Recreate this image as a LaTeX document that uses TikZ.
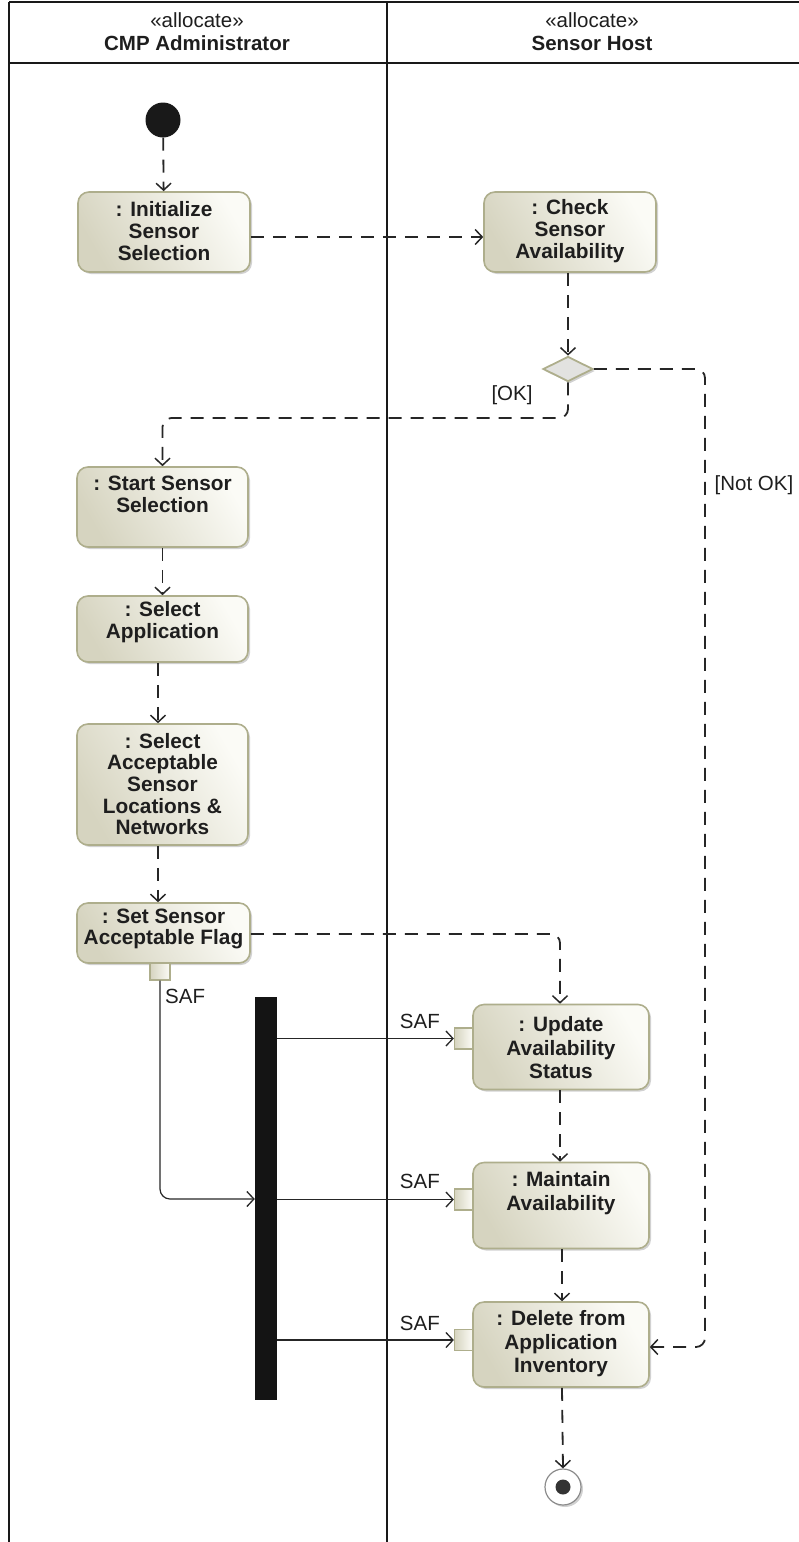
\documentclass[tikz,border=0pt]{standalone}
\usepackage{fontspec}
\setmainfont{Liberation Sans}
\usetikzlibrary{arrows.meta,shadows,shapes.geometric}

\definecolor{actborder}{HTML}{AEAE8C}
\definecolor{actlight}{HTML}{FBFBF6}
\definecolor{actdark}{HTML}{D6D4C0}
\definecolor{decfill}{HTML}{E2E2E0}
\definecolor{inktext}{HTML}{1E1E1E}

\tikzset{
  lane/.style={line width=2.6pt, black!90},
  action/.style={draw=actborder, line width=1.6pt, rounded corners=11pt,
    left color=actdark, right color=actlight, shading angle=120,
    drop shadow={shadow xshift=2pt, shadow yshift=-2pt, opacity=0.3, fill=black!60},
    inner sep=0pt},
  pin/.style={draw=actborder, line width=1.3pt, left color=actdark, right color=actlight,
    minimum width=18pt, minimum height=21pt, inner sep=0pt},
  vpin/.style={pin, minimum width=20pt, minimum height=17pt},
  atext/.style={font=\bfseries\fontsize{20.8}{21.7}\selectfont, align=center, text=inktext, inner sep=0pt},
  rtext/.style={atext, font=\bfseries\fontsize{20.8}{23.5}\selectfont},
  lbl/.style={font=\fontsize{20.5}{22}\selectfont, text=inktext, inner sep=0pt},
  hdr/.style={font=\fontsize{20.5}{22}\selectfont, text=inktext, inner sep=0pt},
  hdrb/.style={font=\bfseries\fontsize{20.5}{22}\selectfont, text=inktext, inner sep=0pt},
  ctrl/.style={line width=1.8pt, black!85, dash pattern=on 13pt off 9pt, rounded corners=9pt,
    -{Straight Barb[length=7pt,width=15pt,line width=1.5pt]}},
  obj/.style={line width=1.2pt, black!85, rounded corners=10pt,
    -{Straight Barb[length=7pt,width=15pt,line width=1.3pt]}},
}

\begin{document}
\begin{tikzpicture}[x=1pt,y=-1pt]
\useasboundingbox (0,0) rectangle (799,1542);

% swimlane frame
\draw[lane] (9,2) -- (799,2);
\draw[lane] (9,63) -- (799,63);
\draw[lane] (9,2) -- (9,1542);
\draw[lane] (387,2) -- (387,1542);

% lane headers
\node[hdr] (h1s) at (197,20) {«allocate»};
\node[hdrb] (h1n) at (197,43) {CMP Administrator};
\node[hdr] (h2s) at (592,20) {«allocate»};
\node[hdrb] (h2n) at (592,43) {Sensor Host};

% initial and final nodes
\node[circle, fill=black!90, minimum size=35pt, inner sep=0pt] (start0) at (163,120) {};
\node[circle, draw=black!45, line width=1.2pt, fill=white, minimum size=36pt, inner sep=0pt,
  drop shadow={shadow xshift=2pt, shadow yshift=-2pt, opacity=0.3, fill=black!60}] (final) at (563,1487) {};
\node[circle, fill=black!80, minimum size=15pt, inner sep=0pt] (finaldot) at (final) {};

% actions
\node[action, minimum width=172pt, minimum height=80pt] (init) at (164,232) {};
\node[atext] (init-t) at (164,231) {: Initialize\\Sensor\\Selection};

\node[action, minimum width=172pt, minimum height=80pt] (check) at (570,232) {};
\node[atext] (check-t) at (570,231) {: Check\\Sensor\\Availability};

\node[action, minimum width=171pt, minimum height=80pt] (start) at (162.5,507) {};
\node[atext] (start-t) at (162.5,494) {: Start Sensor\\Selection};

\node[action, minimum width=171pt, minimum height=66pt] (selapp) at (162.5,629) {};
\node[atext] (selapp-t) at (162.5,622) {: Select\\Application};

\node[action, minimum width=171pt, minimum height=121pt] (selloc) at (162.5,784.5) {};
\node[atext] (selloc-t) at (162.5,784) {: Select\\Acceptable\\Sensor\\Locations \&\\Networks};

\node[action, minimum width=173pt, minimum height=60pt] (setflag) at (163.5,933) {};
\node[atext] (setflag-t) at (163.5,929) {: Set Sensor\\Acceptable Flag};

\node[action, minimum width=176pt, minimum height=85pt] (update) at (561,1047) {};
\node[rtext] (update-t) at (561,1048) {: Update\\Availability\\Status};

\node[action, minimum width=176pt, minimum height=86pt] (maintain) at (561,1205.5) {};
\node[rtext] (maintain-t) at (561,1193) {: Maintain\\Availability};

\node[action, minimum width=176pt, minimum height=85pt] (delete) at (561,1344.5) {};
\node[rtext] (delete-t) at (561,1344) {: Delete from\\Application\\Inventory};

% decision
\node[diamond, aspect=2, draw=actborder, line width=1.8pt, fill=decfill, minimum width=50pt,
  minimum height=25pt, inner sep=0pt,
  drop shadow={shadow xshift=2pt, shadow yshift=-2pt, opacity=0.3, fill=black!60}] (dec) at (568,369) {};

% pins
\node[vpin] (pin-out) at (160,971.5) {};
\node[pin] (pin-upd) at (463.5,1038.5) {};
\node[pin] (pin-mnt) at (463.5,1199.5) {};
\node[pin] (pin-del) at (463.5,1340) {};

% fork bar
\node[fill=black!92, minimum width=22pt, minimum height=403pt, inner sep=0pt] (fork) at (266,1198.5) {};

% control flows
\draw[ctrl] (start0) -- (init);
\draw[ctrl] (init.east |- 0,237) -- (check.west |- 0,237);
\draw[ctrl] (check.south -| dec) -- (dec.north);
\draw[ctrl] (dec.south) -- (568,418) -- (162.5,418) -- (start.north);
\draw[ctrl] (dec.east) -- (705,369) -- (705,1347) -- (delete.east |- 0,1347);
\draw[ctrl] (start) -- (selapp);
\draw[ctrl] (selapp.south -| 158,0) -- (selloc.north -| 158,0);
\draw[ctrl] (selloc.south -| 158,0) -- (setflag.north -| 158,0);
\draw[ctrl] (setflag.east |- 0,934) -- (560,934) -- (update.north -| 560,0);
\draw[ctrl] (update.south -| 560,0) -- (maintain.north -| 560,0);
\draw[ctrl] (maintain.south -| 562,0) -- (delete.north -| 562,0);
\draw[ctrl] (delete.south -| 562,0) -- (final.north);

% guards
\node[lbl] (g-ok) at (512,395) {[OK]};
\node[lbl] (g-nok) at (754,485) {[Not OK]};

% object flows
\draw[obj] (pin-out.south) -- (160,1199) -- (fork.west |- 0,1199);
\draw[obj] (fork.east |- pin-upd) -- (pin-upd.west);
\draw[obj] (fork.east |- pin-mnt) -- (pin-mnt.west);
\draw[obj] (fork.east |- pin-del) -- (pin-del.west);

% pin labels
\node[lbl, anchor=west] (saf-out) at (165,996) {SAF};
\node[lbl, anchor=east] (saf-upd) at (440,1021) {SAF};
\node[lbl, anchor=east] (saf-mnt) at (440,1181) {SAF};
\node[lbl, anchor=east] (saf-del) at (440,1323) {SAF};
\end{tikzpicture}
\end{document}
